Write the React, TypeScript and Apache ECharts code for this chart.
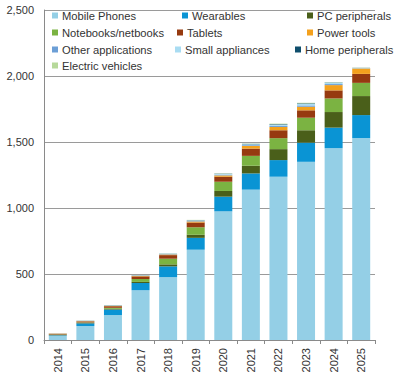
import React, { useEffect, useRef } from "react";
import * as echarts from "echarts";

const years = ["2014", "2015", "2016", "2017", "2018", "2019", "2020", "2021", "2022", "2023", "2024", "2025"];
const mobilePhones = [32, 106, 189, 377, 477, 684, 975, 1139, 1237, 1350, 1453, 1529];
const wearables = [4, 20, 42, 55, 81, 90, 111, 123, 126, 145, 156, 175];
const pcPeripherals = [2, 3, 5, 8, 15, 23, 43, 58, 83, 94, 118, 144];
const notebooks = [3, 4, 8, 22, 43, 57, 70, 75, 83, 95, 103, 100];
const tablets = [7, 8, 12, 20, 27, 36, 38, 55, 60, 56, 61, 68];
const powerTools = [1, 2, 3, 4, 5, 8, 10, 20, 25, 27, 40, 41];
const otherApplications = [1, 1, 2, 2, 3, 4, 5, 6, 8, 10, 8, 2];
const smallAppliances = [1, 1, 2, 2, 3, 4, 6, 7, 9, 12, 10, 2];
const homePeripherals = [0, 1, 1, 1, 1, 2, 2, 3, 4, 4, 2, 1];
const electricVehicles = [0, 1, 1, 1, 1, 2, 2, 2, 4, 4, 2, 1];

const seriesNames = [
  "Mobile Phones",
  "Wearables",
  "PC peripherals",
  "Notebooks/netbooks",
  "Tablets",
  "Power tools",
  "Other applications",
  "Small appliances",
  "Home peripherals",
  "Electric vehicles",
];
const seriesData = [
  mobilePhones,
  wearables,
  pcPeripherals,
  notebooks,
  tablets,
  powerTools,
  otherApplications,
  smallAppliances,
  homePeripherals,
  electricVehicles,
];
const seriesColors = [
  "#94CFE6",
  "#0A94D4",
  "#4A5F1A",
  "#7BB342",
  "#963A10",
  "#F4A11D",
  "#6C9FD6",
  "#A9DCF2",
  "#0F4E6C",
  "#B7D99B",
];

const FONT = "'Liberation Sans', Arial, sans-serif";

export default function App() {
  const ref = useRef<HTMLDivElement>(null);
  useEffect(() => {
    document.body.style.margin = "0";
    if (!ref.current) return;
    const chart = echarts.init(ref.current, null, { renderer: "svg" });
    // legend icon positions [left, top] per item (row/column layout of the reference)
    const legendPos = [
      [52, 10], [182, 10], [307, 10],
      [52, 27], [177, 27], [307, 27],
      [52, 44], [175, 44], [295, 44],
      [52, 60],
    ];
    const legends = seriesNames.map((name, i) => ({
      data: [name],
      left: legendPos[i][0],
      top: legendPos[i][1],
      padding: 0,
      itemWidth: 6,
      itemHeight: 6,
      icon: "rect",
      selectedMode: false,
      textStyle: { fontSize: 11.2, color: "#333", fontFamily: FONT, padding: [0, 0, 0, -1] },
    }));
    chart.setOption({
      animation: false,
      textStyle: { fontFamily: FONT },
      legend: legends,
      grid: { left: 44, right: 25, top: 10, bottom: 40, containLabel: false },
      xAxis: {
        type: "category",
        data: years,
        axisLine: { lineStyle: { color: "#8a8a8a", width: 1 } },
        axisTick: { show: true, length: 4, lineStyle: { color: "#8a8a8a" } },
        axisLabel: { rotate: 90, fontSize: 11, color: "#333", margin: 8, fontFamily: FONT },
      },
      yAxis: {
        type: "value",
        min: 0,
        max: 2500,
        interval: 500,
        axisLine: { show: true, lineStyle: { color: "#8a8a8a", width: 1 } },
        axisTick: { show: false },
        splitLine: { show: true, lineStyle: { color: "#9a9a9a", width: 1 } },
        axisLabel: {
          fontSize: 11,
          color: "#333",
          margin: 10,
          fontFamily: FONT,
          formatter: (v: number) => v.toLocaleString("en-US"),
        },
      },
      series: seriesNames.map((name, i) => ({
        name,
        type: "bar",
        stack: "total",
        data: seriesData[i],
        barWidth: 18,
        itemStyle: { color: seriesColors[i] },
      })),
    });
    return () => chart.dispose();
  }, []);
  return <div ref={ref} style={{ width: 400, height: 380 }} />;
}
